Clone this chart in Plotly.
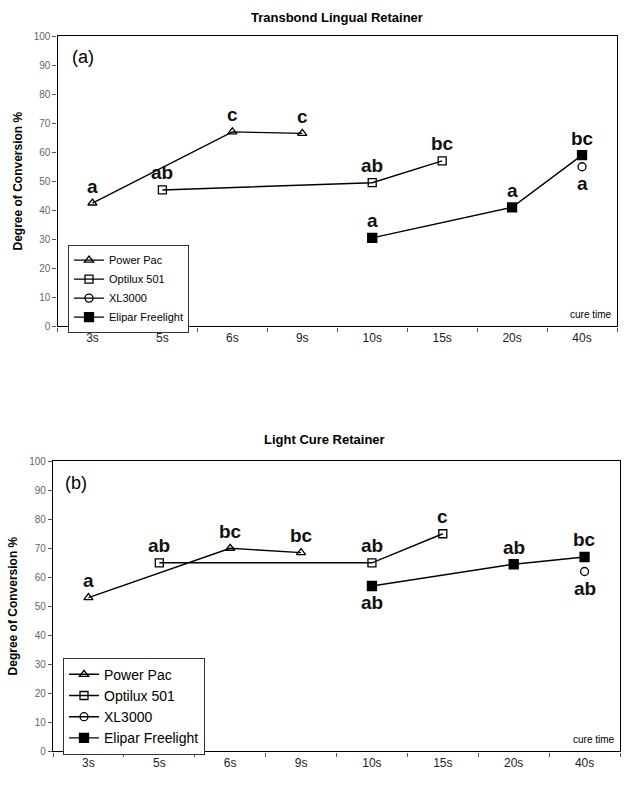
import plotly.graph_objects as go

categories = ["3s", "5s", "6s", "9s", "10s", "15s", "20s", "40s"]
series_names = ["Power Pac", "Optilux 501", "XL3000", "Elipar Freelight"]

# Panel (a) Transbond Lingual Retainer
a_power = [42.5, None, 67.0, 66.5, None, None, None, None]
a_optilux = [None, 47.0, None, None, 49.5, 57.0, None, None]
a_xl = [None, None, None, None, None, None, None, 55.0]
a_elipar = [None, None, None, None, 30.5, None, 41.0, 59.0]

a_power_lbl = ["a", "", "c", "c", "", "", "", ""]
a_optilux_lbl = ["", "ab", "", "", "ab", "bc", "", ""]
a_xl_lbl = ["", "", "", "", "", "", "", "a"]
a_elipar_lbl = ["", "", "", "", "a", "", "a", "bc"]

# Panel (b) Light Cure Retainer
b_power = [53.0, None, 70.0, 68.5, None, None, None, None]
b_optilux = [None, 65.0, None, None, 65.0, 75.0, None, None]
b_xl = [None, None, None, None, None, None, None, 62.0]
b_elipar = [None, None, None, None, 57.0, None, 64.5, 67.0]

b_power_lbl = ["a", "", "bc", "bc", "", "", "", ""]
b_optilux_lbl = ["", "ab", "", "", "ab", "c", "", ""]
b_xl_lbl = ["", "", "", "", "", "", "", "ab"]
b_elipar_lbl = ["", "", "", "", "ab", "", "ab", "bc"]

# label placement: +1 above, -1 below
a_place = {"Power Pac": [1]*8, "Optilux 501": [1]*8, "XL3000": [-1]*8, "Elipar Freelight": [1]*8}
b_place = {"Power Pac": [1]*8, "Optilux 501": [1]*8, "XL3000": [-1]*8,
           "Elipar Freelight": [1, 1, 1, 1, -1, 1, 1, 1]}

symbols = {"Power Pac": "triangle-up-open", "Optilux 501": "square-open",
           "XL3000": "circle-open", "Elipar Freelight": "square"}
msize = {"Power Pac": 8, "Optilux 501": 8, "XL3000": 8, "Elipar Freelight": 9}

FONT = "Liberation Sans, Arial, sans-serif"
W, H = 624, 785

def px_x(p):
    return p / W

def px_y(p):
    return 1 - p / H

fig = go.Figure()

panels = [
    ("x", "y", "legend", [a_power, a_optilux, a_xl, a_elipar],
     [a_power_lbl, a_optilux_lbl, a_xl_lbl, a_elipar_lbl], a_place),
    ("x2", "y2", "legend2", [b_power, b_optilux, b_xl, b_elipar],
     [b_power_lbl, b_optilux_lbl, b_xl_lbl, b_elipar_lbl], b_place),
]

annotations = []
for xa, ya, lg, data, labels, place in panels:
    for name, vals, lbls in zip(series_names, data, labels):
        fig.add_trace(go.Scatter(
            x=categories, y=vals, name=name, mode="lines+markers",
            connectgaps=True, xaxis=xa, yaxis=ya, legend=lg,
            line=dict(color="black", width=1.4),
            marker=dict(symbol=symbols[name], size=msize[name], color="black",
                        line=dict(color="black", width=1.3)),
            hoverinfo="skip",
        ))
        for c, v, t, pl in zip(categories, vals, lbls, place[name]):
            if t and v is not None:
                annotations.append(dict(
                    x=c, y=v, xref=xa, yref=ya, text="<b>%s</b>" % t,
                    showarrow=False, yshift=17 * pl, yanchor="middle",
                    font=dict(family=FONT, size=19, color="#111"),
                ))

# geometry of panels in pixels
top = dict(l=57.5, r=617, t=31.5, b=326)
bot = dict(l=53, r=620, t=462.7, b=757)

axis_common = dict(
    showline=True, linecolor="black", linewidth=1.3, mirror=True,
    showgrid=False, zeroline=False, ticks="outside", ticklen=4,
    tickcolor="#555",
)

fig.update_layout(
    width=W, height=H, margin=dict(l=0, r=0, t=0, b=0),
    paper_bgcolor="white", plot_bgcolor="white",
    font=dict(family=FONT, color="black"),
    xaxis=dict(domain=[px_x(top["l"]), px_x(top["r"])], anchor="y",
               type="category", categoryorder="array", categoryarray=categories,
               tickson="boundaries", range=[-0.5, 7.5],
               tickfont=dict(size=12, color="#222"), **axis_common),
    yaxis=dict(domain=[px_y(top["b"]), px_y(top["t"])], anchor="x",
               range=[0, 100], dtick=10, tickfont=dict(size=10, color="#666"),
               **axis_common),
    xaxis2=dict(domain=[px_x(bot["l"]), px_x(bot["r"])], anchor="y2",
                type="category", categoryorder="array", categoryarray=categories,
                tickson="boundaries", range=[-0.5, 7.5],
                tickfont=dict(size=12, color="#222"), **axis_common),
    yaxis2=dict(domain=[px_y(bot["b"]), px_y(bot["t"])], anchor="x2",
                range=[0, 100], dtick=10, tickfont=dict(size=10, color="#666"),
                **axis_common),
    legend=dict(x=px_x(68), y=px_y(243), xanchor="left", yanchor="top",
                bordercolor="#333", borderwidth=1, bgcolor="white",
                font=dict(size=11, family=FONT), tracegroupgap=0,
                itemwidth=30),
    legend2=dict(x=px_x(63), y=px_y(662), xanchor="left", yanchor="top",
                 bordercolor="#333", borderwidth=1, bgcolor="white",
                 font=dict(size=14, family=FONT), tracegroupgap=0,
                 itemwidth=30),
)

# titles, panel tags, axis titles, "cure time"
annotations += [
    dict(x=px_x(337), y=px_y(13), xref="paper", yref="paper",
         xanchor="center", yanchor="middle",
         text="<b>Transbond Lingual Retainer</b>", showarrow=False,
         font=dict(size=13, family=FONT)),
    dict(x=px_x(324), y=px_y(441), xref="paper", yref="paper",
         xanchor="center", yanchor="middle",
         text="<b>Light Cure Retainer</b>", showarrow=False,
         font=dict(size=13, family=FONT)),
    dict(x=px_x(70), y=px_y(53), xref="paper", yref="paper", xanchor="left",
         yanchor="middle", text="(a)", showarrow=False,
         font=dict(size=18, family=FONT)),
    dict(x=px_x(63), y=px_y(485), xref="paper", yref="paper", xanchor="left",
         yanchor="middle", text="(b)", showarrow=False,
         font=dict(size=18, family=FONT)),
    dict(x=px_x(18), y=px_y(179), xref="paper", yref="paper",
         xanchor="center", yanchor="middle",
         text="<b>Degree of Conversion %</b>", textangle=-90, showarrow=False,
         font=dict(size=12, family=FONT)),
    dict(x=px_x(13), y=px_y(610), xref="paper", yref="paper",
         xanchor="center", yanchor="middle",
         text="<b>Degree of Conversion %</b>", textangle=-90, showarrow=False,
         font=dict(size=12, family=FONT)),
    dict(x=px_x(614), y=px_y(314), xref="paper", yref="paper", xanchor="right",
         yanchor="middle", text="cure time", showarrow=False,
         font=dict(size=10, family=FONT)),
    dict(x=px_x(617), y=px_y(745), xref="paper", yref="paper", xanchor="right",
         yanchor="middle", text="cure time", showarrow=False,
         font=dict(size=10, family=FONT)),
]
fig.update_layout(annotations=annotations)

fig.write_html(
    "out.html",
    config={"displayModeBar": False},
    post_script="document.body.style.margin='0';document.body.style.overflow='hidden';",
)
